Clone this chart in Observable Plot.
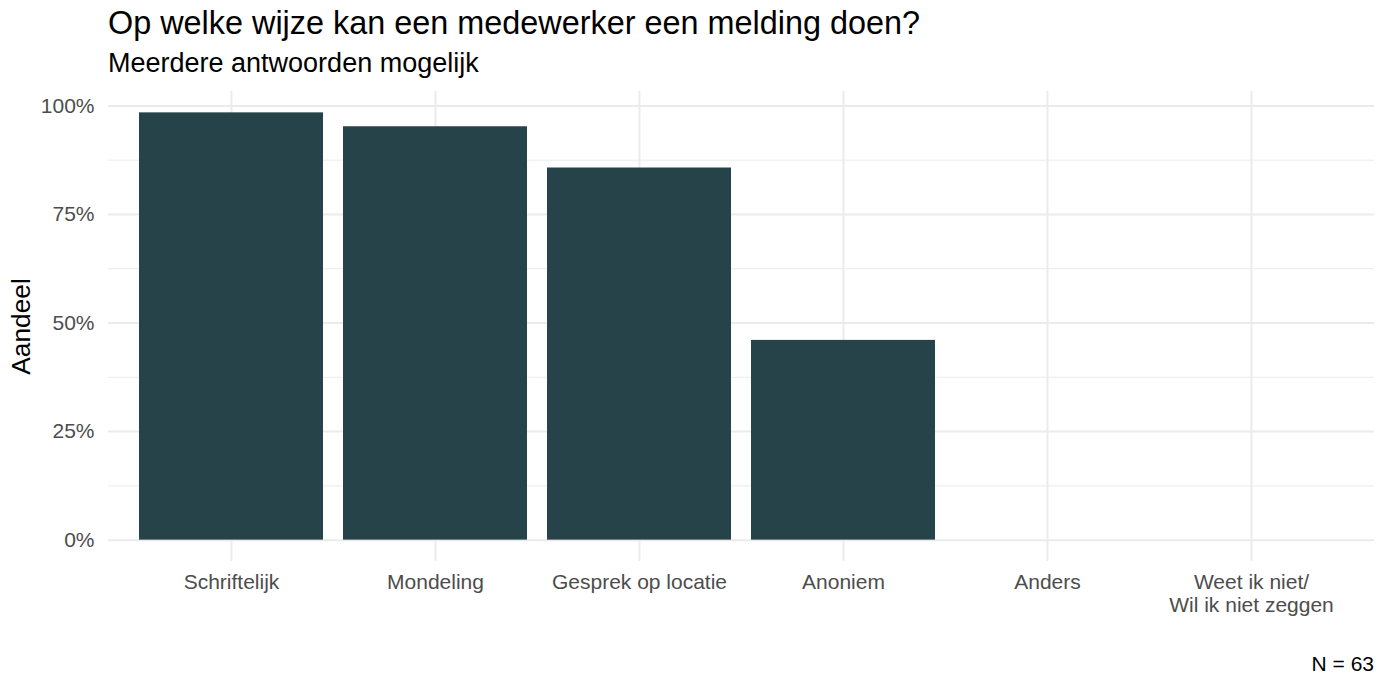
<!DOCTYPE html>
<html>
<head>
<meta charset="utf-8">
<script src="https://cdn.jsdelivr.net/npm/d3@7"></script>
<script src="https://cdn.jsdelivr.net/npm/@observablehq/plot@0.6"></script>
<style>
  html, body { margin: 0; padding: 0; background: #fff; }
  #wrap { position: relative; width: 1386px; height: 681px; font-family: "Liberation Sans", Arial, sans-serif; overflow: hidden; }
  #title { position: absolute; left: 108px; top: 7px; font-size: 32.4px; line-height: 1; color: #000; white-space: nowrap; }
  #subtitle { position: absolute; left: 108px; top: 50px; font-size: 27px; line-height: 1; color: #000; white-space: nowrap; }
  #chart { position: absolute; left: 0; top: 80px; }
  #caption { position: absolute; right: 12px; top: 653px; font-size: 21px; line-height: 1; color: #000; white-space: nowrap; }
</style>
</head>
<body>
<div id="wrap">
  <div id="title">Op welke wijze kan een medewerker een melding doen?</div>
  <div id="subtitle">Meerdere antwoorden mogelijk</div>
  <div id="chart"></div>
  <div id="caption">N = 63</div>
</div>
<script>
const categories = ["Schriftelijk", "Mondeling", "Gesprek op locatie", "Anoniem", "Anders", "Weet ik niet/\nWil ik niet zeggen"];
const shares = [0.984, 0.952, 0.857, 0.460, 0, 0];
const majorTicks = [0, 0.25, 0.5, 0.75, 1];
const minorTicks = [0.125, 0.375, 0.625, 0.875];
const yLabel = ["Aandeel"];

const data = categories.map((c, i) => ({cat: c, share: shares[i]}));

const chart = Plot.plot({
  width: 1386,
  height: 601,
  marginTop: 11,
  marginBottom: 120,
  marginLeft: 108,
  marginRight: 12,
  style: {fontFamily: '"Liberation Sans", Arial, sans-serif', fontSize: "21px", color: "#4D4D4D", background: "transparent"},
  x: {domain: categories, paddingInner: 0.1, paddingOuter: 0.15, label: null},
  y: {domain: [-0.0492, 1.0332], label: null},
  marks: [
    Plot.gridY(minorTicks, {stroke: "#EBEBEB", strokeOpacity: 1, strokeWidth: 1}),
    Plot.gridY(majorTicks, {stroke: "#EBEBEB", strokeOpacity: 1, strokeWidth: 2}),
    Plot.gridX({stroke: "#EBEBEB", strokeOpacity: 1, strokeWidth: 2}),
    Plot.barY(data, {x: "cat", y: "share", fill: "#264349"}),
    Plot.axisY(majorTicks, {tickFormat: d3.format(".0%"), tickSize: 0, tickPadding: 14, fill: "#4D4D4D", fontSize: 21, label: null}),
    Plot.axisX({tickSize: 0, tickPadding: 10, fill: "#4D4D4D", fontSize: 21, lineHeight: 1.14, label: null}),
    Plot.text(yLabel, {frameAnchor: "left", textAnchor: "middle", lineAnchor: "middle", rotate: -90, dx: -87, fontSize: 26.3, fill: "#000", text: d => d})
  ]
});
document.getElementById("chart").appendChild(chart);
</script>
</body>
</html>
